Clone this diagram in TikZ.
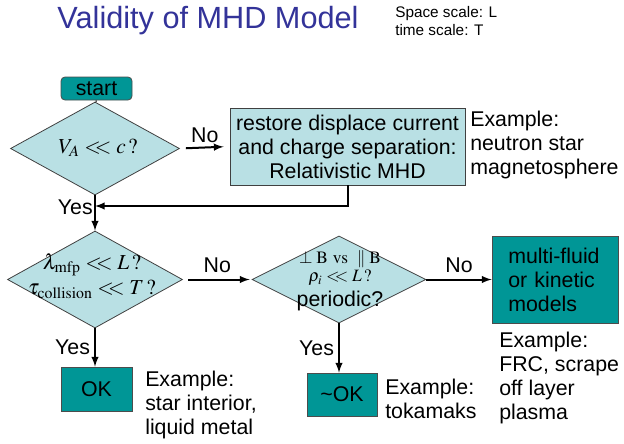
\documentclass[tikz,border=0pt]{standalone}
\usepackage{mathptmx}
\usepackage[no-math]{fontspec}
\setmainfont{Liberation Sans}
\usepackage{xcolor}
\usetikzlibrary{arrows}
\usetikzlibrary{shapes.geometric}
\usetikzlibrary{math}
\definecolor{titleblue}{RGB}{51,51,153}
\definecolor{darkteal}{RGB}{0,150,150}
\definecolor{paleteal}{RGB}{185,224,228}

\newcommand{\mll}{\mathrel{<\mkern-5mu<}}

\tikzset{
  body/.style={font=\fontsize{16}{18}\selectfont, inner sep=0pt},
  decision/.style={diamond, draw=black!75, line width=0.6pt, fill=paleteal, inner sep=0pt},
  okbox/.style={rectangle, draw=black!70, line width=0.6pt, fill=darkteal, inner sep=0pt, font=\fontsize{16}{18}\selectfont},
  flow/.style={-latex, line width=1.5pt},
  note/.style={body, align=left, anchor=west},
}

\begin{document}
\begin{tikzpicture}[x=0.75pt, y=-0.75pt]
\tikzmath{
\colA=95;
\colB=339;
}
\useasboundingbox (0,0) rectangle (624,443);

\node[font=\fontsize{23}{26}\selectfont, text=titleblue, inner sep=0pt] (title) at (208,21) {Validity of MHD Model};
\node[font=\fontsize{11.5}{13.5}\selectfont, align=left, anchor=west, inner sep=0pt] (scales) at (395,21) {Space scale: L\\time scale: T};

% first question
\node[okbox, rounded corners=3pt, minimum width=53.25pt, minimum height=17.25pt] (start) at (96.5,88.5) {start};
\node[decision, minimum width=126.75pt, minimum height=69.75pt] (va) at (\colA,148.5) {};
\node[body] (vatext) at (98,148) {$V_A \mll c\,?$};
\node[rectangle, draw=black!75, line width=0.6pt, fill=paleteal, minimum width=176.25pt, minimum height=57.75pt, body, align=center] (rmhd) at (347.5,146.5) {restore displace current\\and charge separation:\\Relativistic MHD};
\node[note] (exrmhd) at (470,145) {Example:\\neutron star\\magnetosphere};

\draw[line width=0.8pt] (start) -- (va);
\draw[flow, shorten <=4.5pt, shorten >=4.5pt] (va.east) -- (rmhd.west) node[midway, above=3pt, body] (no1) {No};
\coordinate (join) at (\colA,206);
\draw[flow] (rmhd.south) |- (join);
\node[body, anchor=east] (yes1) at (\colA-2,207) {Yes};

% second question
\node[decision, minimum width=131.25pt, minimum height=72.75pt] (mfp) at (\colA,279.5) {};
\node[body, align=center] (mfptext) at (92,276) {$\lambda_{\mathrm{mfp}} \mll L\,?$\\[1pt]$\tau_{\mathrm{collision}} \mll T\,?$};
\draw[flow] (va.south) -- (mfp.north);

\node[decision, minimum width=130.5pt, minimum height=65.25pt] (rho) at (\colB,279.5) {};
\node[inner sep=0pt, font=\fontsize{13}{11}\selectfont] (bvsb) at (340,259) {$\perp\mathrm{B}\ \mathrm{vs}\ \parallel\mathrm{B}$};
\node[inner sep=0pt, font=\fontsize{13}{11}\selectfont] (rhotext) at (340,278) {$\rho_i \mll L\,?$};
\node[body] (pertext) at (340,301) {periodic?};
\draw[flow, shorten <=4pt, shorten >=1.5pt] (mfp.east) -- (rho.west) node[midway, above=4pt, body] (no2) {No};

\node[okbox, minimum width=94.5pt, minimum height=65.25pt, align=left, text width=70pt] (kinetic) at (555,279.5) {multi-fluid\\or kinetic\\models};
\draw[flow] (rho.east) -- (kinetic.west) node[midway, above=4pt, body] (no3) {No};
\node[note] (exkin) at (499,378) {Example:\\FRC, scrape\\off layer\\plasma};

% answers
\node[okbox, minimum width=53.25pt, minimum height=33pt] (ok) at (96.5,389) {OK};
\draw[flow] (mfp.south) -- (mfp.south |- ok.north) node[midway, left=3pt, body] (yes2) {Yes};
\node[note] (exok) at (145,405) {Example:\\star interior,\\liquid metal};

\node[okbox, minimum width=52.5pt, minimum height=32.25pt] (nearok) at (342,394.5) {\textasciitilde OK};
\draw[flow] (rho.south) -- (rho.south |- nearok.north) node[midway, left=3pt, body] (yes3) {Yes};
\node[note] (extok) at (385,398.5) {Example:\\tokamaks};

\end{tikzpicture}
\end{document}
